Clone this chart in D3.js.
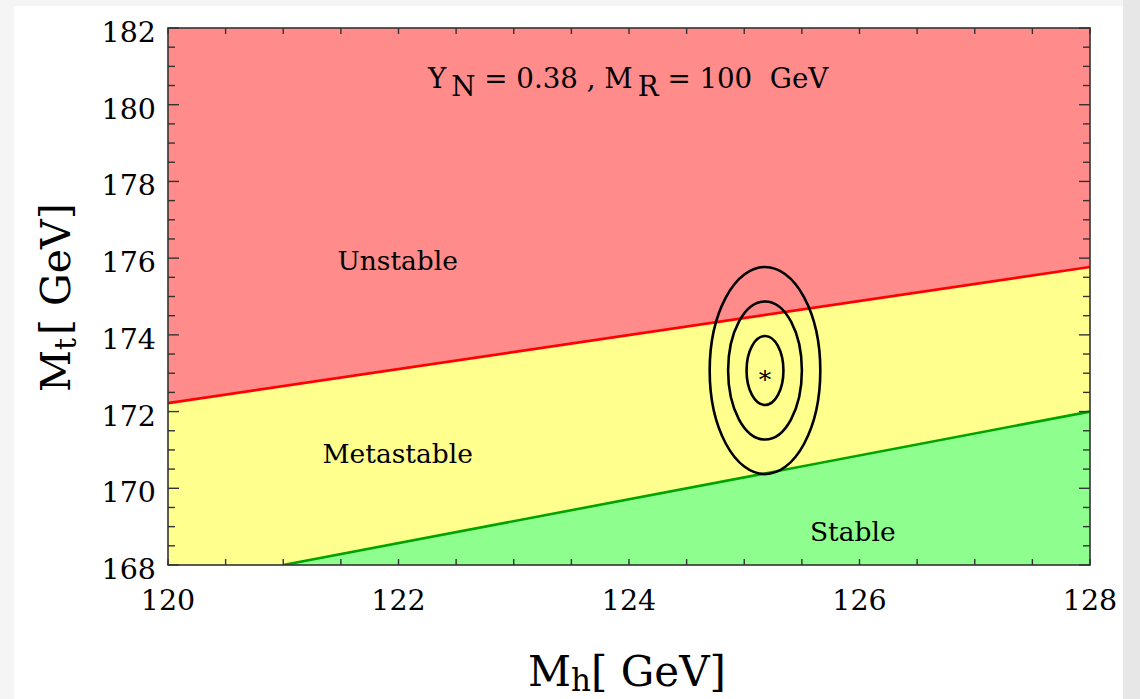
<!DOCTYPE html>
<html>
<head>
<meta charset="utf-8">
<script src="https://cdn.jsdelivr.net/npm/d3@7"></script>
<style>
  html, body { margin: 0; padding: 0; }
  body { width: 1140px; height: 699px; background: #f5f5f5; overflow: hidden; }
  svg { display: block; }
  text { font-family: "DejaVu Serif", "Liberation Serif", serif; fill: #000; }
</style>
</head>
<body>
<svg id="chart" width="1140" height="699"></svg>
<script>
// axis ranges / ticks
const xDomain = [120, 128];
const yDomain = [168, 182];
const xMajor = [120, 122, 124, 126, 128];
const yMajor = [168, 170, 172, 174, 176, 178, 180, 182];

// stability boundaries (Mh, Mt)
const redMh = [120, 128];
const redMt = [172.22, 175.77];
const greenMh = [121, 128];
const greenMt = [168.0, 172.0];

// best fit point and 1,2,3 sigma contours
const bestMh = 125.18;
const bestMt = 173.07;
const sigmaMh = 0.16;
const sigmaMt = 0.9;
const nSigma = [1, 2, 3];

// region labels
const regionNames = ["Unstable", "Metastable", "Stable"];
const regionMh = [121.47, 121.34, 125.57];
const regionMt = [175.69, 170.66, 168.63];

const svg = d3.select("#chart");

// page card
svg.append("rect").attr("x", 1123).attr("y", 0).attr("width", 17).attr("height", 699).attr("fill", "#e7e7e7");
svg.append("rect").attr("x", 14).attr("y", 6).attr("width", 1109).attr("height", 693).attr("fill", "#fff");

const L = 168, R = 1090, T = 28, B = 565;
const x = d3.scaleLinear().domain(xDomain).range([L, R]);
const y = d3.scaleLinear().domain(yDomain).range([B, T]);

svg.append("clipPath").attr("id", "plotclip")
  .append("rect").attr("x", L).attr("y", T).attr("width", R - L).attr("height", B - T);

const plot = svg.append("g").attr("clip-path", "url(#plotclip)");

// metastable background
plot.append("rect").attr("x", L).attr("y", T).attr("width", R - L).attr("height", B - T).attr("fill", "#ffff8e");

const red = redMh.map((d, i) => [d, redMt[i]]);
const green = greenMh.map((d, i) => [d, greenMt[i]]);

plot.append("path")
  .datum(red)
  .attr("fill", "#ff8b8b")
  .attr("d", d3.area().x(d => x(d[0])).y0(y(yDomain[1])).y1(d => y(d[1])));

plot.append("path")
  .datum(green)
  .attr("fill", "#8eff8e")
  .attr("d", d3.area().x(d => x(d[0])).y0(y(yDomain[0])).y1(d => y(d[1])));

const line = d3.line().x(d => x(d[0])).y(d => y(d[1]));
plot.append("path").datum(red).attr("fill", "none").attr("stroke", "#ff0000").attr("stroke-width", 2.6).attr("d", line);
plot.append("path").datum(green).attr("fill", "none").attr("stroke", "#00a400").attr("stroke-width", 2.6).attr("d", line);

// contours
plot.selectAll("ellipse.contour")
  .data(nSigma)
  .enter()
  .append("ellipse")
  .classed("contour", true)
  .attr("cx", x(bestMh))
  .attr("cy", y(bestMt))
  .attr("rx", n => x(bestMh + n * sigmaMh) - x(bestMh))
  .attr("ry", n => y(bestMt) - y(bestMt + n * sigmaMt))
  .attr("fill", "none")
  .attr("stroke", "#000")
  .attr("stroke-width", 2.6);

plot.append("text")
  .attr("x", x(bestMh))
  .attr("y", y(bestMt) + 17)
  .attr("text-anchor", "middle")
  .style("font-size", "25px")
  .text("*");

// region labels
plot.selectAll("text.region")
  .data(regionNames)
  .enter()
  .append("text")
  .classed("region", true)
  .attr("x", (d, i) => x(regionMh[i]))
  .attr("y", (d, i) => y(regionMt[i]))
  .style("font-size", "26.5px")
  .text(d => d);

// title
const title = plot.append("text").attr("x", 428).attr("y", 88).style("font-size", "27.7px");
title.append("tspan").text("Y");
title.append("tspan").attr("dy", 8).attr("dx", 5).text("N");
title.append("tspan").attr("dy", -8).attr("dx", 0).text(" = 0.38 , M");
title.append("tspan").attr("dy", 8).attr("dx", 5).text("R");
title.append("tspan").attr("dy", -8).text(" = 100\u00a0\u00a0GeV");

// ticks
const xMinor = d3.range(120, 128.01, 0.5);
const yMinor = d3.range(168, 182.01, 0.5);
const axes = svg.append("g").attr("stroke", "#333").attr("stroke-width", 1.4);

axes.selectAll("line.xb").data(xMinor).enter().append("line")
  .attr("x1", d => x(d)).attr("x2", d => x(d)).attr("y1", B).attr("y2", B - 6);
axes.selectAll("line.xt").data(xMinor).enter().append("line")
  .attr("x1", d => x(d)).attr("x2", d => x(d)).attr("y1", T).attr("y2", T + 6);
axes.selectAll("line.yl").data(yMinor).enter().append("line")
  .attr("y1", d => y(d)).attr("y2", d => y(d)).attr("x1", L)
  .attr("x2", d => L + (yMajor.includes(d) ? 11 : 7));
axes.selectAll("line.yr").data(yMinor).enter().append("line")
  .attr("y1", d => y(d)).attr("y2", d => y(d)).attr("x1", R)
  .attr("x2", d => R - (yMajor.includes(d) ? 11 : 7));

svg.append("rect").attr("x", L).attr("y", T).attr("width", R - L).attr("height", B - T)
  .attr("fill", "none").attr("stroke", "#333").attr("stroke-width", 1.6);

// tick labels
svg.selectAll("text.xl").data(xMajor).enter().append("text")
  .attr("x", d => x(d)).attr("y", B + 45)
  .attr("text-anchor", "middle").style("font-size", "28.5px")
  .text(d => d);
svg.selectAll("text.yl").data(yMajor).enter().append("text")
  .attr("x", L - 12).attr("y", d => y(d) + 14)
  .attr("text-anchor", "end").style("font-size", "28.5px")
  .text(d => d);

// axis titles
const xt = svg.append("text").attr("x", 528).attr("y", 686).style("font-size", "42px");
xt.append("tspan").text("M");
xt.append("tspan").attr("dy", 5).style("font-size", "31px").text("h");
xt.append("tspan").attr("dy", -5).text("[ GeV]");

const yt = svg.append("text").attr("transform", "translate(70,392) rotate(-90)").style("font-size", "41px");
yt.append("tspan").text("M");
yt.append("tspan").attr("dy", 6).style("font-size", "30px").text("t");
yt.append("tspan").attr("dy", -6).attr("dx", 3).text("[ GeV]");
</script>
</body>
</html>
